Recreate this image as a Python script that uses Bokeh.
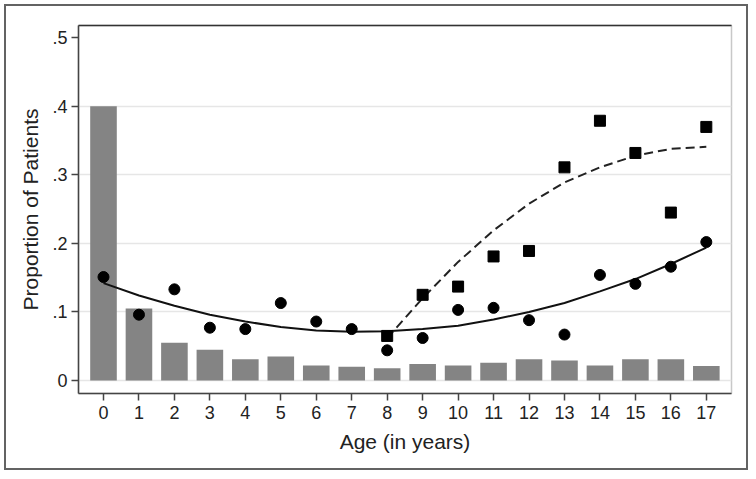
from bokeh.plotting import figure
from bokeh.models import FixedTicker, LinearAxis, Range1d
from bokeh.embed import file_html
from bokeh.resources import INLINE

# ---- data ----
ages = list(range(18))
bar_props = [0.400, 0.105, 0.055, 0.045, 0.031, 0.035, 0.022, 0.020, 0.018,
             0.024, 0.022, 0.026, 0.031, 0.029, 0.022, 0.031, 0.031, 0.021]
circle_props = [0.151, 0.096, 0.133, 0.077, 0.075, 0.113, 0.086, 0.075, 0.044,
                0.062, 0.103, 0.106, 0.088, 0.067, 0.154, 0.141, 0.166, 0.202]
square_ages = list(range(8, 18))
square_props = [0.065, 0.125, 0.137, 0.181, 0.189, 0.311, 0.379, 0.332, 0.245, 0.370]
fit_all_ages = list(range(18))
fit_all = [0.142, 0.124, 0.109, 0.096, 0.086, 0.078, 0.073, 0.071, 0.072,
           0.075, 0.080, 0.089, 0.100, 0.113, 0.130, 0.148, 0.170, 0.194]
fit_sq_ages = list(range(8, 18))
fit_sq = [0.062, 0.120, 0.173, 0.219, 0.258, 0.289, 0.311, 0.328, 0.338, 0.341]
x_ticks = list(range(18))
y_ticks = [0, 0.1, 0.2, 0.3, 0.4, 0.5]
y_tick_labels = ["0", ".1", ".2", ".3", ".4", ".5"]
grid_ticks = [0, 0.1, 0.2, 0.3, 0.4]

FONT = "Liberation Sans"

p = figure(width=744, height=466, output_backend="svg", toolbar_location=None,
           x_range=Range1d(-0.705, 17.71), y_range=Range1d(-0.019, 0.518),
           min_border_left=72, min_border_right=19, min_border_top=19,
           min_border_bottom=79)
p.styles = {"border": "2px solid #636363", "margin": "4px 0 0 4px"}
p.background_fill_color = "white"
p.border_fill_color = "white"
p.outline_line_color = "#c8c8c8"
p.outline_line_width = 1.5

# bars
p.vbar(x=ages, top=bar_props, width=0.75, bottom=0, fill_color="#848484",
       line_color=None)
# fits
p.line(fit_all_ages, fit_all, line_color="#111111", line_width=2)
p.line(fit_sq_ages, fit_sq, line_color="#222222", line_width=2, line_dash="9 5")
# points
p.scatter(ages, circle_props, marker="circle", size=11, fill_color="black",
          line_color="black")
p.scatter(square_ages, square_props, marker="square", size=11, fill_color="black",
          line_color="black")

# axes
p.xaxis.ticker = FixedTicker(ticks=x_ticks)
p.yaxis.ticker = FixedTicker(ticks=y_ticks)
p.yaxis.major_label_overrides = {t: l for t, l in zip(y_ticks, y_tick_labels)}
p.xaxis.axis_label = "Age (in years)"
p.yaxis.axis_label = "Proportion of Patients"
for ax in (p.xaxis[0], p.yaxis[0]):
    ax.axis_line_color = "#444444"
    ax.axis_line_width = 1.5
    ax.major_tick_line_color = "#444444"
    ax.major_tick_line_width = 1.5
    ax.major_tick_out = 7
    ax.major_tick_in = 0
    ax.minor_tick_line_color = None
    ax.major_label_text_font = FONT
    ax.major_label_text_font_size = "18px"
    ax.major_label_text_color = "#222222"
    ax.axis_label_text_font = FONT
    ax.axis_label_text_font_size = "21px"
    ax.axis_label_text_font_style = "normal"
    ax.axis_label_text_color = "#222222"
p.xaxis.major_label_standoff = 5
p.yaxis.major_label_standoff = 4
p.xaxis.axis_label_standoff = 8
p.yaxis.axis_label_standoff = 7
p.yaxis.major_label_orientation = "horizontal"

# dark top frame line
top_ax = LinearAxis(ticker=FixedTicker(ticks=[]), axis_line_color="#333333",
                    axis_line_width=1.5, major_tick_line_color=None,
                    minor_tick_line_color=None, major_label_text_font_size="0px",
                    major_label_standoff=0)
p.add_layout(top_ax, "above")

# grid
p.xgrid.grid_line_color = None
p.ygrid.ticker = FixedTicker(ticks=grid_ticks)
p.ygrid.grid_line_color = "#e6e6e6"
p.ygrid.grid_line_width = 1.5

open("out.html", "w").write(file_html(p, INLINE))
